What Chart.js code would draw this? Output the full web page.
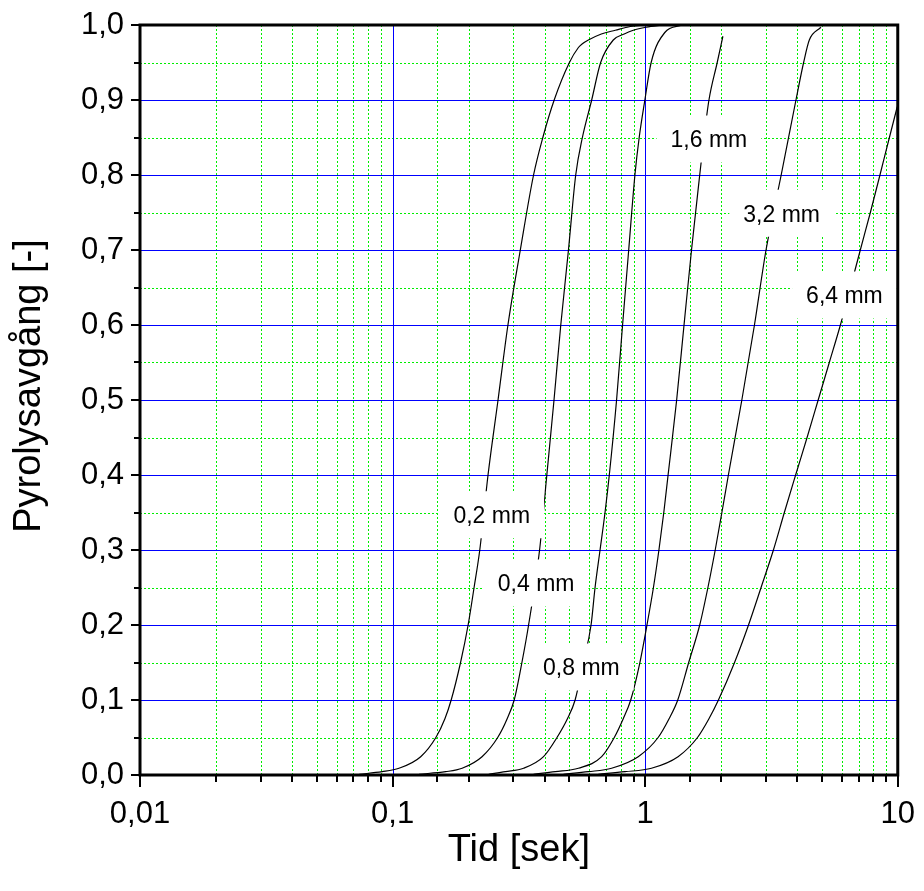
<!DOCTYPE html>
<html>
<head>
<meta charset="utf-8">
<script src="https://cdn.jsdelivr.net/npm/chart.js@4.4.1/dist/chart.umd.min.js"></script>
<style>
html,body{margin:0;padding:0;background:#ffffff;}
#wrap{width:924px;height:891px;}
</style>
</head>
<body>
<div id="wrap"><canvas id="c" width="924" height="891"></canvas></div>
<script>
// ---- data (time in seconds, pyrolysis fraction) ----
const t02 = [0.0738, 0.0909, 0.106, 0.1292, 0.1484, 0.1611, 0.1706, 0.1858, 0.1991, 0.2102, 0.2214, 0.2387, 0.2615, 0.2862, 0.3204, 0.3615, 0.3934, 0.4363, 0.5013, 0.5441, 0.5642, 0.5958, 0.6706, 0.7614, 0.8726, 1.0];
const p02 = [0.001, 0.0044, 0.009, 0.0244, 0.05, 0.075, 0.1, 0.15, 0.2, 0.25, 0.3, 0.4, 0.5, 0.6, 0.7, 0.8, 0.85, 0.9, 0.95, 0.97, 0.975, 0.98, 0.988, 0.993, 0.998, 1.0];

const t04 = [0.1272, 0.1622, 0.1885, 0.2260, 0.2607, 0.2842, 0.3030, 0.3251, 0.3455, 0.3819, 0.4080, 0.4356, 0.4633, 0.4969, 0.5309, 0.5642, 0.6141, 0.6664, 0.7477, 0.8263, 0.8968, 1.009, 1.178];
const p04 = [0.001, 0.0044, 0.009, 0.0244, 0.05, 0.075, 0.1, 0.15, 0.2, 0.3, 0.4, 0.5, 0.6, 0.7, 0.8, 0.85, 0.9, 0.95, 0.98, 0.988, 0.993, 0.997, 1.0];

const t08 = [0.2402, 0.2796, 0.3302, 0.3959, 0.4476, 0.4922, 0.5280, 0.5692, 0.6106, 0.6333, 0.6628, 0.6935, 0.7211, 0.7705, 0.8138, 0.8606, 0.9107, 0.9469, 0.9973, 1.056, 1.196, 1.40];
const p08 = [0.001, 0.0044, 0.009, 0.0244, 0.05, 0.075, 0.1, 0.15, 0.2, 0.25, 0.3, 0.35, 0.4, 0.5, 0.6, 0.7, 0.8, 0.85, 0.9, 0.95, 0.99, 1.0];

const t16 = [0.3615, 0.4403, 0.5441, 0.6725, 0.7546, 0.8188, 0.8766, 0.9530, 1.0165, 1.0783, 1.1336, 1.1850, 1.2323, 1.3324, 1.4250, 1.5257, 1.6442, 1.7094, 1.7886, 1.9285, 2.0309];
const p16 = [0.001, 0.0044, 0.009, 0.0244, 0.05, 0.075, 0.1, 0.15, 0.2, 0.25, 0.3, 0.35, 0.4, 0.5, 0.6, 0.7, 0.8, 0.85, 0.9, 0.95, 0.985];

const t32 = [0.4748, 0.5958, 0.7364, 0.9384, 1.1254, 1.2435, 1.3459, 1.4872, 1.6442, 1.772, 1.8936, 2.0122, 2.1352, 2.4139, 2.7080, 3.0095, 3.4555, 3.9536, 4.2393, 4.4654, 4.9614];
const p32 = [0.001, 0.0044, 0.009, 0.0244, 0.05, 0.075, 0.1, 0.15, 0.2, 0.25, 0.3, 0.35, 0.4, 0.5, 0.6, 0.7, 0.8, 0.9, 0.95, 0.98, 0.997];

const t64 = [0.6525, 0.8316, 1.0590, 1.3495, 1.6111, 1.7886, 1.9500, 2.2587, 2.5652, 2.8766, 3.2190, 3.5563, 3.9419, 4.3752, 4.8408, 5.3580, 5.9278, 6.4952, 7.1074, 7.7895, 8.5017, 9.2666, 9.954];
const p64 = [0.001, 0.0044, 0.009, 0.0244, 0.05, 0.075, 0.1, 0.15, 0.2, 0.25, 0.3, 0.35, 0.4, 0.45, 0.5, 0.55, 0.6, 0.65, 0.7, 0.75, 0.8, 0.85, 0.891];

// curve labels (text and their anchor in data coordinates)
const labelTexts = ['0,2 mm', '0,4 mm', '0,8 mm', '1,6 mm', '3,2 mm', '6,4 mm'];
const labelX = [0.247, 0.370, 0.559, 1.788, 3.47, 6.15];
const labelY = [0.347, 0.256, 0.144, 0.848, 0.749, 0.640];

const xTitle = 'Tid [sek]';
const yTitle = 'Pyrolysavgång [-]';

// ---- build ----
const FONT = '"Liberation Sans", Arial, Helvetica, sans-serif';
function pts(t, p) { return t.map((v, i) => ({x: v, y: p[i]})); }
const series = [[t02, p02], [t04, p04], [t08, p08], [t16, p16], [t32, p32], [t64, p64]];

function isMajorLog(v) {
  const e = Math.round(Math.log10(v));
  return Math.abs(v / Math.pow(10, e) - 1) < 1e-6;
}
function fmtLog(v) {
  const e = Math.round(Math.log10(v));
  if (e < 0) return '0,' + '0'.repeat(-e - 1) + '1';
  return String(Math.round(Math.pow(10, e)));
}

const deco = {
  id: 'deco',
  beforeDatasetsDraw(chart) {
    const {ctx, chartArea: a, scales: {x, y}} = chart;
    ctx.save();
    ctx.beginPath();
    ctx.rect(a.left, a.top, a.right - a.left, a.bottom - a.top);
    ctx.clip();
    // minor dotted green grid
    ctx.strokeStyle = '#00ee00';
    ctx.lineWidth = 1;
    ctx.setLineDash([2, 2]);
    y.ticks.forEach((t, i) => {
      if (i % 2 === 1) {
        const py = Math.round(y.getPixelForValue(t.value)) + 0.5;
        ctx.beginPath(); ctx.moveTo(a.left, py); ctx.lineTo(a.right, py); ctx.stroke();
      }
    });
    x.ticks.forEach(t => {
      if (!isMajorLog(t.value)) {
        const px = Math.round(x.getPixelForValue(t.value)) + 0.5;
        ctx.beginPath(); ctx.moveTo(px, a.top); ctx.lineTo(px, a.bottom); ctx.stroke();
      }
    });
    // major blue grid
    ctx.setLineDash([]);
    ctx.strokeStyle = '#0000ff';
    y.ticks.forEach((t, i) => {
      if (i % 2 === 0 && t.value > 0.001 && t.value < 0.999) {
        const py = Math.round(y.getPixelForValue(t.value)) + 0.5;
        ctx.beginPath(); ctx.moveTo(a.left, py); ctx.lineTo(a.right, py); ctx.stroke();
      }
    });
    x.ticks.forEach(t => {
      if (isMajorLog(t.value) && t.value > x.min * 1.01 && t.value < x.max * 0.99) {
        const px = Math.round(x.getPixelForValue(t.value)) + 0.5;
        ctx.beginPath(); ctx.moveTo(px, a.top); ctx.lineTo(px, a.bottom); ctx.stroke();
      }
    });
    ctx.restore();
  },
  afterDatasetsDraw(chart) {
    const {ctx, chartArea: a, scales: {x, y}} = chart;
    ctx.save();
    // curve labels with white boxes
    ctx.font = '23px ' + FONT;
    ctx.textAlign = 'center';
    ctx.textBaseline = 'middle';
    labelTexts.forEach((txt, i) => {
      const px = x.getPixelForValue(labelX[i]);
      const py = y.getPixelForValue(labelY[i]);
      const w = ctx.measureText(txt).width + 28;
      const h = 47;
      ctx.fillStyle = '#ffffff';
      ctx.fillRect(px - w / 2, py - h / 2, w, h);
      ctx.fillStyle = '#000000';
      ctx.fillText(txt, px, py + 2);
    });
    // frame
    ctx.strokeStyle = '#000000';
    ctx.lineWidth = 3;
    ctx.strokeRect(a.left, a.top, a.right - a.left, a.bottom - a.top);
    // tick marks
    ctx.lineWidth = 2;
    y.ticks.forEach((t, i) => {
      const py = Math.round(y.getPixelForValue(t.value));
      const len = i % 2 === 0 ? 9 : 6;
      ctx.beginPath(); ctx.moveTo(a.left - len, py); ctx.lineTo(a.left, py); ctx.stroke();
    });
    x.ticks.forEach(t => {
      const px = Math.round(x.getPixelForValue(t.value));
      const len = isMajorLog(t.value) ? 12 : 7;
      ctx.beginPath(); ctx.moveTo(px, a.bottom); ctx.lineTo(px, a.bottom + len); ctx.stroke();
    });
    // axis titles
    ctx.fillStyle = '#000000';
    ctx.font = '38px ' + FONT;
    ctx.textAlign = 'center';
    ctx.textBaseline = 'middle';
    ctx.fillText(xTitle, (a.left + a.right) / 2, 851);
    ctx.translate(30, (a.top + a.bottom) / 2 - 14);
    ctx.rotate(-Math.PI / 2);
    ctx.fillText(yTitle, 0, 0);
    ctx.restore();
  }
};

new Chart(document.getElementById('c'), {
  type: 'line',
  data: {
    datasets: series.map(s => ({
      data: pts(s[0], s[1]),
      borderColor: '#000000',
      borderWidth: 1.2,
      pointRadius: 0,
      fill: false,
      cubicInterpolationMode: 'monotone'
    }))
  },
  options: {
    responsive: false,
    animation: false,
    devicePixelRatio: 1,
    layout: {padding: {left: 0, right: 24, top: 25, bottom: 0}},
    plugins: {legend: {display: false}, tooltip: {enabled: false}, title: {display: false}},
    scales: {
      x: {
        type: 'logarithmic',
        min: 0.01,
        max: 10,
        afterFit(scale) { scale.height = 116; },
        grid: {display: true, drawOnChartArea: false, drawTicks: true, tickLength: 12, tickColor: 'rgba(0,0,0,0)'},
        border: {display: false},
        ticks: {
          autoSkip: false, maxRotation: 0, minRotation: 0, padding: 9,
          color: '#000000',
          font: {family: FONT, size: 31},
          callback: (v) => isMajorLog(v) ? fmtLog(v) : ''
        }
      },
      y: {
        type: 'linear',
        min: 0,
        max: 1,
        afterFit(scale) { scale.width = 140; },
        grid: {display: true, drawOnChartArea: false, drawTicks: true, tickLength: 10, tickColor: 'rgba(0,0,0,0)'},
        border: {display: false},
        ticks: {
          stepSize: 0.05, autoSkip: false, padding: 6,
          color: '#000000',
          font: {family: FONT, size: 31},
          callback: (v, i) => (i % 2 === 0) ? v.toFixed(1).replace('.', ',') : ''
        }
      }
    }
  },
  plugins: [deco]
});
</script>
</body>
</html>
